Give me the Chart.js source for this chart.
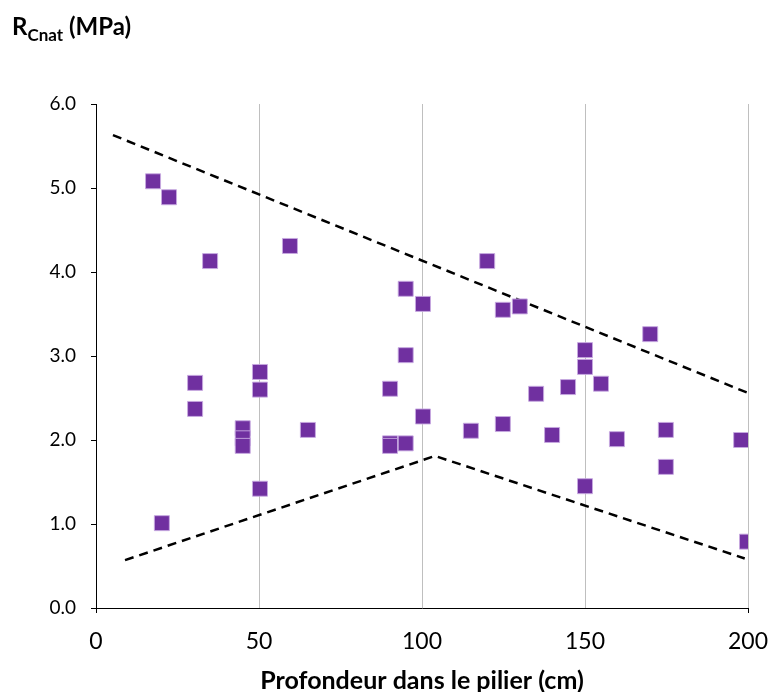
<!DOCTYPE html>
<html>
<head>
<meta charset="utf-8">
<script src="https://cdn.jsdelivr.net/npm/chart.js@4.4.0/dist/chart.umd.min.js"></script>
<style>
  html, body { margin: 0; padding: 0; background: #fff; }
  #wrap { position: relative; width: 769px; height: 692px; }
  #ytitle { position: absolute; left: 12px; top: 11px; font-family: Lato, "Open Sans", sans-serif; font-weight: bold; font-size: 24px; color: #000; white-space: nowrap; }
  #ytitle sub { font-size: 17px; vertical-align: -6px; }
</style>
</head>
<body>
<div id="wrap">
  <canvas id="c" width="769" height="692"></canvas>
  <div id="ytitle">R<sub>Cnat</sub> (MPa)</div>
</div>
<script>
// Measured points: depth (cm) and R_Cnat (MPa)
const depth = [17.5, 22.4, 35, 59.5, 30.4, 30.4, 45, 45, 45, 50.3, 50.3, 50.3, 20.2, 65, 90.2, 90.2, 90.2, 95, 95, 95, 100.3, 100.3, 115, 120, 124.8, 130, 124.8, 135, 144.8, 139.9, 150, 150, 150, 154.9, 159.8, 170, 174.8, 174.8, 197.9, 199.7];
const rcnat = [5.08, 4.89, 4.13, 4.31, 2.68, 2.37, 2.14, 2.02, 1.93, 2.81, 2.60, 1.42, 1.01, 2.12, 2.61, 1.96, 1.93, 1.96, 3.01, 3.80, 3.62, 2.28, 2.11, 4.13, 3.55, 3.59, 2.19, 2.55, 2.63, 2.06, 3.07, 2.87, 1.45, 2.67, 2.01, 3.26, 2.12, 1.68, 2.00, 0.79];
// Envelope lines
const upperX = [5.2, 200];
const upperY = [5.63, 2.56];
const lowerX = [8.9, 104, 199];
const lowerY = [0.57, 1.81, 0.59];
const xTicks = [0, 50, 100, 150, 200];
const yTicks = [0, 1, 2, 3, 4, 5, 6];

const pts = depth.map((x, i) => ({x, y: rcnat[i]}));
const up = upperX.map((x, i) => ({x, y: upperY[i]}));
const low = lowerX.map((x, i) => ({x, y: lowerY[i]}));

const FONT = 'Lato, "Open Sans", sans-serif';

new Chart(document.getElementById('c'), {
  type: 'scatter',
  data: {
    datasets: [
      { data: pts, pointStyle: 'rect', pointRadius: 10.6, pointHoverRadius: 10.6,
        backgroundColor: '#7030A0', borderColor: 'rgba(200,170,225,0.9)', borderWidth: 1, order: 1 },
      { data: up, showLine: true, pointRadius: 0, borderColor: '#000', borderWidth: 2.5,
        borderDash: [9, 6], fill: false, order: 2 },
      { data: low, showLine: true, pointRadius: 0, borderColor: '#000', borderWidth: 2.5,
        borderDash: [9, 6], fill: false, order: 2 }
    ]
  },
  options: {
    responsive: false,
    animation: false,
    layout: { padding: { top: 104, right: 21, left: 0, bottom: 0 } },
    plugins: { legend: { display: false }, tooltip: { enabled: false } },
    scales: {
      x: {
        type: 'linear', min: 0, max: 200,
        afterBuildTicks: s => { s.ticks = xTicks.map(v => ({value: v})); },
        afterFit: s => { s.height = 84; s.paddingLeft = 0; s.paddingRight = 0; },
        border: { display: true, color: '#000', width: 1 },
        grid: {
          color: ctx => ctx.tick && ctx.tick.value === 0 ? 'transparent' : '#bfbfbf',
          tickColor: ctx => ctx.tick && (ctx.tick.value === 0 || ctx.tick.value === 200) ? '#000' : 'transparent',
          lineWidth: 1, tickLength: 5
        },
        ticks: { color: '#000', font: { family: FONT, size: 23 }, padding: 15, maxRotation: 0 },
        title: { display: true, text: 'Profondeur dans le pilier (cm)', color: '#000',
                 font: { family: FONT, size: 25, weight: 'bold', lineHeight: 0.9 }, padding: { top: 0, bottom: 0 } }
      },
      y: {
        type: 'linear', min: 0, max: 6,
        afterBuildTicks: s => { s.ticks = yTicks.map(v => ({value: v})); },
        afterFit: s => { s.width = 96; s.paddingTop = 0; s.paddingBottom = 0; },
        border: { display: true, color: '#000', width: 1 },
        grid: { drawOnChartArea: false, drawTicks: true, tickLength: 5, color: '#000' },
        ticks: { color: '#000', font: { family: FONT, size: 19 }, padding: 15,
                 callback: v => Number(v).toFixed(1) }
      }
    }
  }
});
</script>
</body>
</html>
